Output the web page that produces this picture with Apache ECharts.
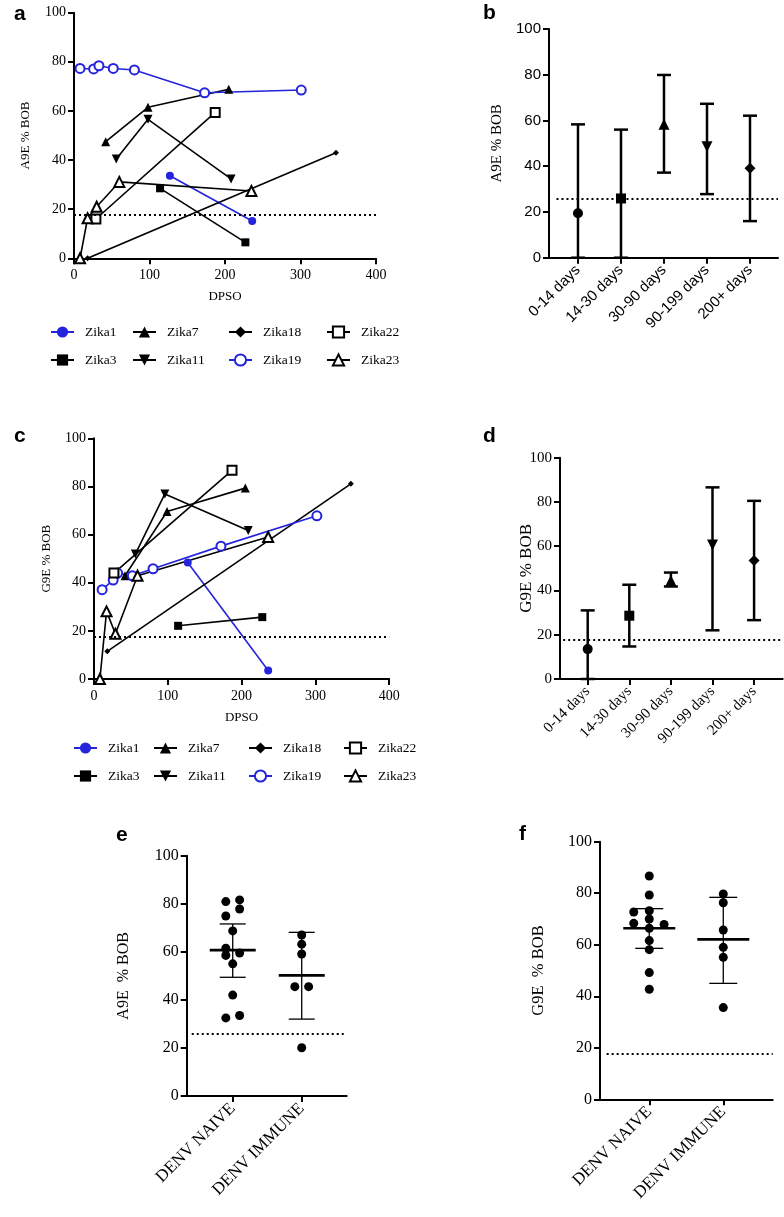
<!DOCTYPE html>
<html><head><meta charset="utf-8">
<script src="https://cdn.jsdelivr.net/npm/echarts@6/dist/echarts.min.js"></script>
<style>html,body{margin:0;padding:0;background:#fff}#c{width:784px;height:1217px}</style>
</head><body><div id="c"></div>
<script>
// ---------- DATA ----------
// Panel a (A9E % BOB vs DPSO): [DPSO, value]
const aZika1  = [[127,33.6],[236,15.2]];
const aZika3  = [[114,28.5],[227,6.5]];
const aZika7  = [[42,47.5],[98,61.5],[205,68.8]];
const aZika11 = [[56,40.4],[98,56.6],[208,32.3]];
const aZika18 = [[18,0],[347,43]];
const aZika19 = [[8,77.3],[26,77.1],[33,78.4],[52,77.3],[80,76.7],[173,67.4],[301,68.5]];
const aZika22 = [[29,16],[187,59.4]];
const aZika23 = [[8,0],[18,16.3],[30,21],[60,31.1],[235,27.4]];
const aCutoff = 17.6;
// Panel c (G9E % BOB vs DPSO)
const cZika1  = [[127,48.4],[236,3.5]];
const cZika3  = [[114,22.1],[228,25.7]];
const cZika7  = [[42,42.9],[99,69.6],[205,79.3]];
const cZika11 = [[56,51.9],[96,76.9],[209,61.7]];
const cZika18 = [[18,11.5],[348,81.1]];
const cZika19 = [[11,37.1],[26,41.1],[32,44],[52,42.9],[80,45.8],[172,55.2],[302,67.8]];
const cZika22 = [[27,44],[187,86.7]];
const cZika23 = [[8,0],[17,28.1],[29,18.8],[59,42.9],[236,59]];
const cCutoff = 17.7;
// Panel b / d
const periodCats = ['0-14 days','14-30 days','30-90 days','90-199 days','200+ days'];
const bMean = [19.4, 25.9, 58.3, 48.5, 39.1];
const bLow  = [0, 0, 37.2, 27.8, 16.0];
const bHigh = [58.3, 56.0, 79.9, 67.3, 62.1];
const bCutoff = 25.7;
const dMean = [13.5, 28.6, 44.5, 60.5, 53.5];
const dLow  = [0, 14.7, 41.8, 22.0, 26.6];
const dHigh = [31.0, 42.6, 48.1, 86.6, 80.5];
const dCutoff = 17.7;
// Panel e / f
const denvCats = ['DENV NAIVE','DENV IMMUNE'];
const eNaive = [80.9, 81.6, 74.9, 77.8, 68.7, 61.5, 58.5, 59.5, 55.0, 42.0, 32.5, 33.5];
const eNaiveJit = [-0.1, 0.1, -0.1, 0.1, 0, -0.1, -0.1, 0.1, 0, 0, -0.1, 0.1];
const eImmune = [67.0, 63.2, 59.1, 45.5, 45.5, 20.1];
const eImmuneJit = [0, 0, 0, -0.1, 0.1, 0];
const eMean = [60.7, 50.2];
const eLow  = [49.4, 32.0];
const eHigh = [71.6, 68.1];
const eCutoff = 25.7;
const fNaive = [86.7, 79.3, 72.7, 73.2, 68.3, 70.0, 67.9, 66.4, 61.6, 58.1, 49.2, 42.7];
const fNaiveJit = [0, 0, -0.21, 0, -0.21, 0, 0.2, 0, 0, 0, 0, 0];
const fImmune = [79.7, 76.3, 65.7, 59.0, 55.1, 35.6];
const fImmuneJit = [0, 0, 0, 0, 0, 0];
const fMean = [66.4, 62.1];
const fLow  = [58.6, 45.0];
const fHigh = [74.0, 78.4];
const fCutoff = 17.5;

// ---------- STYLE ----------
const SERIF = '"Liberation Serif", "Times New Roman", serif';
const SANS = '"Liberation Sans", Arial, sans-serif';
const BLUE = '#2424dc';
const zStyle = {
  Zika1:  {color: BLUE, symbol: 'circle', size: 8},
  Zika3:  {color: '#000', symbol: 'rect', size: 8},
  Zika7:  {color: '#000', symbol: 'triangle', size: 9},
  Zika11: {color: '#000', symbol: 'triangle', rotate: 180, size: 9},
  Zika18: {color: '#000', symbol: 'diamond', size: 6},
  Zika19: {color: BLUE, symbol: 'emptyCircle', size: 9},
  Zika22: {color: '#000', symbol: 'emptyRect', size: 9},
  Zika23: {color: '#000', symbol: 'emptyTriangle', size: 10}
};
const periodSymbols = [['circle',0,10],['rect',0,10],['triangle',0,11],['triangle',180,11],['diamond',0,11]];

function zSeries(name, data, idx) {
  const s = zStyle[name];
  return {type: 'line', name, data, xAxisIndex: idx, yAxisIndex: idx,
    symbol: s.symbol, symbolSize: s.size, symbolRotate: s.rotate || 0,
    lineStyle: {color: s.color, width: 1.6}, itemStyle: {color: s.color, borderWidth: 1.6, opacity: 1},
    z: 3, silent: true};
}
function cutoffLine(v, x1, x2) {
  const d = (x1 === undefined) ? [{yAxis: v}] : [[{coord: [x1, v]}, {coord: [x2, v]}]];
  return {silent: true, symbol: ['none','none'], label: {show: false},
    lineStyle: {color: '#000', type: [2, 3], width: 2, opacity: 1}, emphasis: {disabled: true}, data: d};
}
function errBar(idx, lows, highs, capHalf, lw) {
  return {type: 'custom', xAxisIndex: idx, yAxisIndex: idx, z: 2, silent: true,
    data: lows.map((l, i) => [i, l, highs[i]]),
    renderItem: (p, api) => {
      const x = api.value(0);
      const a = api.coord([x, api.value(1)]);
      const b = api.coord([x, api.value(2)]);
      const st = {stroke: '#000', lineWidth: lw};
      return {type: 'group', children: [
        {type: 'line', shape: {x1: a[0], y1: a[1], x2: b[0], y2: b[1]}, style: st},
        {type: 'line', shape: {x1: b[0]-capHalf, y1: b[1], x2: b[0]+capHalf, y2: b[1]}, style: st},
        {type: 'line', shape: {x1: a[0]-capHalf, y1: a[1], x2: a[0]+capHalf, y2: a[1]}, style: st}
      ]};
    }};
}
function meanLine(idx, means, half, lw) {
  return {type: 'custom', xAxisIndex: idx, yAxisIndex: idx, z: 4, silent: true,
    data: means.map((m, i) => [i, m]),
    renderItem: (p, api) => {
      const c = api.coord([api.value(0), api.value(1)]);
      return {type: 'line', shape: {x1: c[0]-half, y1: c[1], x2: c[0]+half, y2: c[1]},
        style: {stroke: '#000', lineWidth: lw}};
    }};
}
function valAxisX(idx, min, max, cats, font, size) {
  const idxs = cats.map((c, i) => i);
  return {type: 'value', gridIndex: idx, min, max, splitLine: {show: false},
    axisLine: {lineStyle: {color: '#000', width: 2}},
    axisTick: {customValues: idxs, length: 6, lineStyle: {color: '#000', width: 2}},
    axisLabel: {customValues: idxs, formatter: v => cats[Math.round(v)], rotate: 45, margin: 10,
      color: '#000', fontFamily: font, fontSize: size}};
}
function yAx(idx, name, labelFont, labelSize, nameSize, gap) {
  return {type: 'value', gridIndex: idx, min: 0, max: 100, interval: 20, splitLine: {show: false},
    name, nameLocation: 'middle', nameGap: gap, nameMoveOverlap: false,
    nameTextStyle: {fontFamily: SERIF, fontSize: nameSize, color: '#000'},
    axisLine: {onZero: false, lineStyle: {color: '#000', width: 2}},
    axisTick: {length: 6, lineStyle: {color: '#000', width: 2}},
    axisLabel: {color: '#000', fontFamily: labelFont, fontSize: labelSize, margin: 8}};
}
function dpsoAxis(idx) {
  return {type: 'value', gridIndex: idx, min: 0, max: 400, interval: 100, splitLine: {show: false},
    name: 'DPSO', nameLocation: 'middle', nameGap: 32, nameMoveOverlap: false,
    nameTextStyle: {fontFamily: SERIF, fontSize: 13, color: '#000'},
    axisLine: {onZero: false, lineStyle: {color: '#000', width: 2}},
    axisTick: {length: 6, lineStyle: {color: '#000', width: 2}},
    axisLabel: {color: '#000', fontFamily: SERIF, fontSize: 14, margin: 10}};
}
function legendCols(xs, top) {
  const cols = [['Zika1','Zika3'],['Zika7','Zika11'],['Zika18','Zika19'],['Zika22','Zika23']];
  return cols.map((items, i) => ({orient: 'vertical', left: xs[i], top, padding: 0,
    itemWidth: 23, itemHeight: 14, itemGap: 14, selectedMode: false, data: items,
    textStyle: {fontFamily: SERIF, fontSize: 13.5, color: '#000', padding: [0, 0, 0, 6]}}));
}
const names = Object.keys(zStyle);
const aData = {Zika1: aZika1, Zika3: aZika3, Zika7: aZika7, Zika11: aZika11, Zika18: aZika18, Zika19: aZika19, Zika22: aZika22, Zika23: aZika23};
const cData = {Zika1: cZika1, Zika3: cZika3, Zika7: cZika7, Zika11: cZika11, Zika18: cZika18, Zika19: cZika19, Zika22: cZika22, Zika23: cZika23};

const series = [];
names.forEach(n => series.push(zSeries(n, aData[n], 0)));
series[0].markLine = cutoffLine(aCutoff);
names.forEach(n => series.push(zSeries(n, cData[n], 2)));
series[8].markLine = cutoffLine(cCutoff);
const solid = {color: '#000', opacity: 1};
// b
series.push(errBar(1, bLow, bHigh, 7, 2.5));
series.push({type: 'scatter', xAxisIndex: 1, yAxisIndex: 1, z: 4, silent: true,
  data: bMean.map((m, i) => ({value: [i, m], symbol: periodSymbols[i][0], symbolRotate: periodSymbols[i][1], symbolSize: periodSymbols[i][2]})),
  itemStyle: solid, markLine: cutoffLine(bCutoff, -0.5, 4.651)});
// d
series.push(errBar(3, dLow, dHigh, 7, 2.5));
series.push({type: 'scatter', xAxisIndex: 3, yAxisIndex: 3, z: 4, silent: true,
  data: dMean.map((m, i) => ({value: [i, m], symbol: periodSymbols[i][0], symbolRotate: periodSymbols[i][1], symbolSize: periodSymbols[i][2]})),
  itemStyle: solid, markLine: cutoffLine(dCutoff, -0.59, 4.688)});
// e
series.push({type: 'scatter', xAxisIndex: 4, yAxisIndex: 4, z: 3, silent: true, symbolSize: 9, itemStyle: solid,
  data: eNaive.map((v, i) => [0 + eNaiveJit[i], v]).concat(eImmune.map((v, i) => [1 + eImmuneJit[i], v])),
  markLine: cutoffLine(eCutoff, -0.594, 1.652)});
series.push(errBar(4, eLow, eHigh, 13, 1.3));
series.push(meanLine(4, eMean, 23, 2.6));
// f
series.push({type: 'scatter', xAxisIndex: 5, yAxisIndex: 5, z: 3, silent: true, symbolSize: 9, itemStyle: solid,
  data: fNaive.map((v, i) => [0 + fNaiveJit[i], v]).concat(fImmune.map((v, i) => [1 + fImmuneJit[i], v])),
  markLine: cutoffLine(fCutoff, -0.576, 1.668)});
series.push(errBar(5, fLow, fHigh, 14, 1.3));
series.push(meanLine(5, fMean, 26, 2.6));

const panelLabel = (t, x, y) => ({type: 'text', left: x, top: y,
  style: {text: t, font: 'bold 21px "Liberation Sans", Arial, sans-serif', fill: '#000'}});

const option = {
  animation: false,
  backgroundColor: '#fff',
  grid: [
    {left: 74, top: 12.7, width: 302, height: 245.6},
    {left: 549, top: 29, width: 229, height: 228.7},
    {left: 94, top: 438.3, width: 295.2, height: 240.7},
    {left: 560, top: 457.7, width: 222.7, height: 221.3},
    {left: 186.7, top: 855.7, width: 160, height: 240.3},
    {left: 600, top: 841.7, width: 172.7, height: 257.6}
  ],
  xAxis: [
    dpsoAxis(0),
    valAxisX(1, -0.674, 4.651, periodCats, SANS, 15),
    dpsoAxis(2),
    valAxisX(3, -0.666, 4.688, periodCats, SERIF, 15),
    valAxisX(4, -0.667, 1.652, denvCats, SERIF, 17),
    valAxisX(5, -0.666, 1.668, denvCats, SERIF, 17)
  ],
  yAxis: [
    yAx(0, 'A9E % BOB', SERIF, 14, 13, 42),
    yAx(1, 'A9E % BOB', SANS, 15, 15, 44),
    yAx(2, 'G9E % BOB', SERIF, 14, 13, 41),
    yAx(3, 'G9E % BOB', SERIF, 15, 17, 25),
    yAx(4, 'A9E  % BOB', SERIF, 16, 16, 55),
    yAx(5, 'G9E  % BOB', SERIF, 16, 16.5, 53)
  ],
  legend: legendCols([50, 132, 228, 326], 325).concat(legendCols([73, 153, 248, 343], 741)),
  series,
  graphic: [
    panelLabel('a', 14, 4), panelLabel('b', 483, 3),
    panelLabel('c', 14, 426), panelLabel('d', 483, 426),
    panelLabel('e', 116, 825), panelLabel('f', 519, 824)
  ]
};
const chart = echarts.init(document.getElementById('c'), null, {renderer: 'canvas'});
chart.setOption(option);
</script></body></html>
